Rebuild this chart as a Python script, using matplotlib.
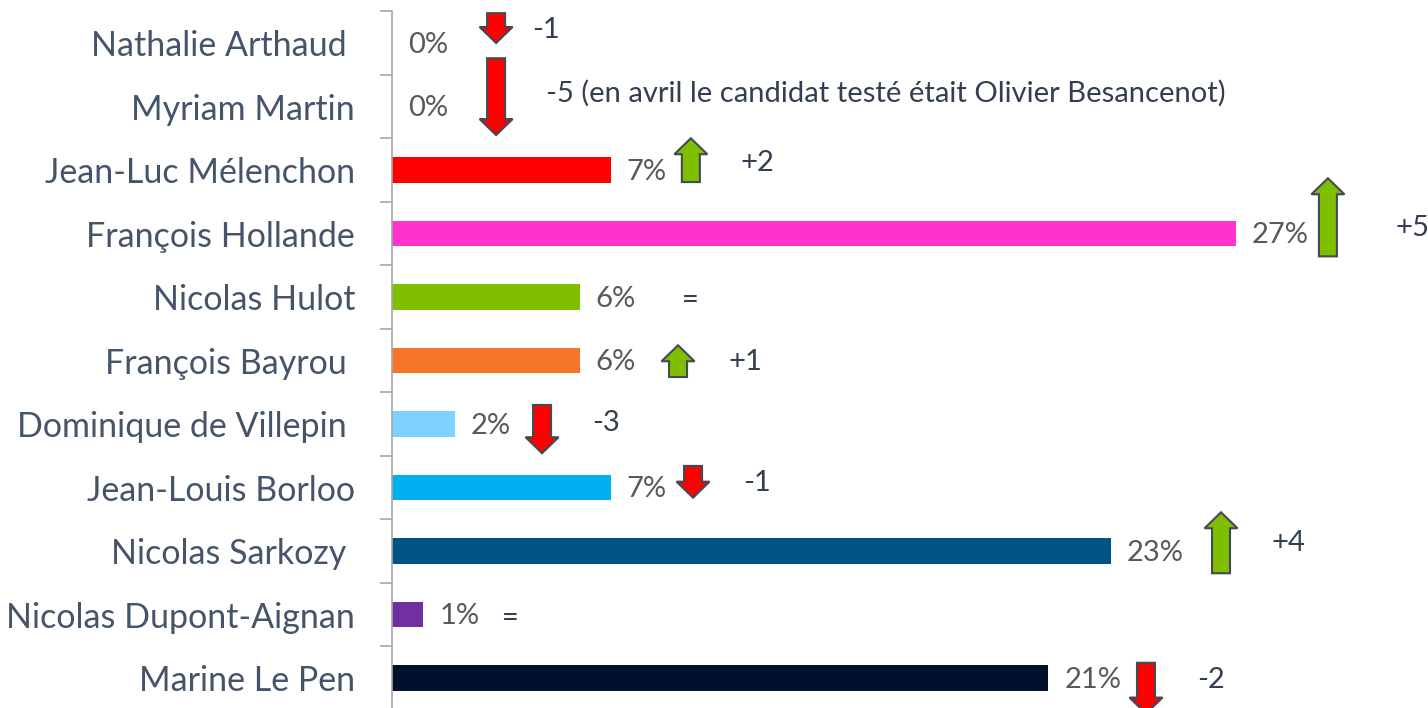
import numpy as np
import matplotlib.pyplot as plt
from matplotlib.patches import Polygon

# Data
candidates = ['Nathalie Arthaud ', 'Myriam Martin', 'Jean-Luc Mélenchon', 'François Hollande',
              'Nicolas Hulot', 'François Bayrou ', 'Dominique de Villepin ', 'Jean-Louis Borloo',
              'Nicolas Sarkozy ', 'Nicolas Dupont-Aignan', 'Marine Le Pen']
scores = [0, 0, 7, 27, 6, 6, 2, 7, 23, 1, 21]
changes = [-1, -5, 2, 5, 0, 1, -3, -1, 4, 0, -2]
change_labels = ['-1', '-5 (en avril le candidat testé était Olivier Besancenot)', '+2', '+5', '=',
                 '+1', '-3', '-1', '+4', '=', '-2']
colors = ['#FF0000', '#FF0000', '#FF0000', '#FF33CC', '#80BE00', '#F77526', '#7ED2FF',
          '#00B0F0', '#005482', '#7030A0', '#00112E']

# Layout of the change markers (x in %, y offsets in rows from the bar centre)
arrow_x = [3.33, 3.33, 9.56, 29.94, None, 9.15, 4.80, 9.63, 26.52, None, 24.12]
arrow_top = [-0.47, -0.76, -0.50, -0.87, None, -0.24, -0.30, -0.34, -0.61, None, -0.24]
arrow_len = [0.47, 1.21, 0.69, 1.23, None, 0.50, 0.76, 0.50, 0.96, None, 0.80]
label_x = [4.48, 4.93, 11.16, 32.09, 9.28, 10.75, 6.40, 11.23, 28.15, 3.52, 25.75]
label_dy = [-0.20, -0.21, -0.11, -0.09, 0.05, 0.02, -0.02, -0.07, -0.13, 0.05, 0.03]

PX_X = 1 / 31.26   # one pixel in data units along x
PX_Y = 1 / 63.5    # one pixel in row units along y

plt.rcParams['font.family'] = ['Lato', 'DejaVu Sans']

fig = plt.figure(figsize=(14.28, 7.08), dpi=100)
ax = fig.add_axes([392 / 1428, -0.0025, 32 * 31.26 / 1428, 0.9866])

y = np.arange(len(candidates))
ax.barh(y, scores, height=0.4, color=colors)
ax.set_xlim(0, 32)
ax.set_ylim(10.5, -0.5)

for i, s in enumerate(scores):
    ax.text(s + 16 * PX_X, i + 0.03, f'{s}%', va='center', ha='left', fontsize=21, color='#595959')


def arrow(cx, top, length, up, color):
    hw = 16.5 * PX_X
    sw = 9 * PX_X
    hl = 16 * PX_Y
    bot = top + length
    if up:
        pts = [(cx, top), (cx + hw, top + hl), (cx + sw, top + hl), (cx + sw, bot),
               (cx - sw, bot), (cx - sw, top + hl), (cx - hw, top + hl)]
    else:
        pts = [(cx, bot), (cx + hw, bot - hl), (cx + sw, bot - hl), (cx + sw, top),
               (cx - sw, top), (cx - sw, bot - hl), (cx - hw, bot - hl)]
    ax.add_patch(Polygon(pts, closed=True, facecolor=color, edgecolor='#404B57',
                         linewidth=1.5, clip_on=False, zorder=3))


for i, c in enumerate(changes):
    if arrow_x[i] is not None:
        arrow(arrow_x[i], i + arrow_top[i], arrow_len[i], c > 0, '#80BE00' if c > 0 else '#FF0000')
    ax.text(label_x[i], i + label_dy[i], change_labels[i], va='center', ha='left',
            fontsize=21, color='#333F50', clip_on=False)

ax.set_yticks(y)
ax.set_yticklabels(candidates, fontsize=24.5, color='#44546A')
ax.set_yticks(np.arange(-0.5, 10.6, 1), minor=True)
ax.tick_params(axis='y', which='major', length=0, pad=26.6)
ax.tick_params(axis='y', which='minor', length=12 * 0.72, color='#A6A6A6', width=1.2)
ax.set_xticks([])
for side in ['top', 'right', 'bottom']:
    ax.spines[side].set_visible(False)
ax.spines['left'].set_color('#A6A6A6')
ax.spines['left'].set_linewidth(1.2)

fig.savefig('out.png', dpi=100)
